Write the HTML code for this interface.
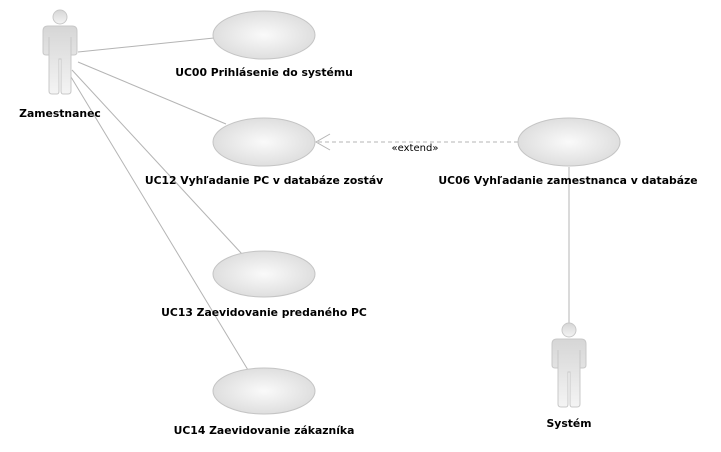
<!DOCTYPE html>
<html><head><meta charset="utf-8"><style>
body{margin:0;background:#fff;}
svg{display:block;}
text{font-family:"DejaVu Sans","Liberation Sans",sans-serif;font-size:10.8px;font-weight:bold;fill:#000;text-anchor:middle;}
</style></head><body>
<svg width="721" height="452" viewBox="0 0 721 452">
<defs>
<radialGradient id="eg" cx="0.5" cy="0.5" r="0.6">
<stop offset="0" stop-color="#fafafa"/><stop offset="1" stop-color="#d9d9d9"/>
</radialGradient>
<linearGradient id="ag" x1="0" y1="0" x2="0" y2="1">
<stop offset="0" stop-color="#d6d6d6"/><stop offset="1" stop-color="#f4f4f4"/>
</linearGradient>
<g id="actor">
<circle cx="0" cy="-8" r="7" fill="url(#ag)" stroke="#c8c8c8"/>
<path d="M-17,6 Q-17,1 -12,1 L12,1 Q17,1 17,6 L17,27 Q17,30 14,30 L11,30 L11,66 Q11,69 8,69 L3,69 Q1,69 1,66 L1,34 L-1,34 L-1,66 Q-1,69 -3,69 L-8,69 Q-11,69 -11,66 L-11,30 L-14,30 Q-17,30 -17,27 Z" fill="url(#ag)" stroke="#c8c8c8"/>
<path d="M-11,12 L-11,30 M11,12 L11,30" stroke="#c8c8c8" fill="none"/>
</g>
</defs>
<g stroke="#b4b4b4" stroke-width="1" fill="none">
<line x1="78" y1="52" x2="214" y2="38"/>
<line x1="78" y1="62" x2="226" y2="124"/>
<line x1="72" y1="70" x2="242" y2="254"/>
<line x1="68" y1="72" x2="248" y2="370"/>
<line x1="569" y1="167" x2="569" y2="323"/>
<line x1="518" y1="142" x2="317" y2="142" stroke-dasharray="4,3"/>
<polyline points="330,134 316,142 330,150"/>
</g>
<g fill="url(#eg)" stroke="#c4c4c4">
<ellipse cx="264" cy="35" rx="51" ry="24"/>
<ellipse cx="264" cy="142" rx="51" ry="24"/>
<ellipse cx="264" cy="274" rx="51" ry="23"/>
<ellipse cx="264" cy="391" rx="51" ry="23"/>
<ellipse cx="569" cy="142" rx="51" ry="24"/>
</g>
<use href="#actor" x="60" y="25"/>
<use href="#actor" x="569" y="338"/>
<text x="60" y="117">Zamestnanec</text>
<text x="264" y="76">UC00 Prihlásenie do systému</text>
<text x="264" y="184">UC12 Vyhľadanie PC v databáze zostáv</text>
<text x="264" y="316">UC13 Zaevidovanie predaného PC</text>
<text x="264" y="434">UC14 Zaevidovanie zákazníka</text>
<text x="568" y="184">UC06 Vyhľadanie zamestnanca v databáze</text>
<text x="569" y="427">Systém</text>
<text x="415" y="151" style="font-weight:normal;font-size:10px">«extend»</text>
</svg>
</body></html>
